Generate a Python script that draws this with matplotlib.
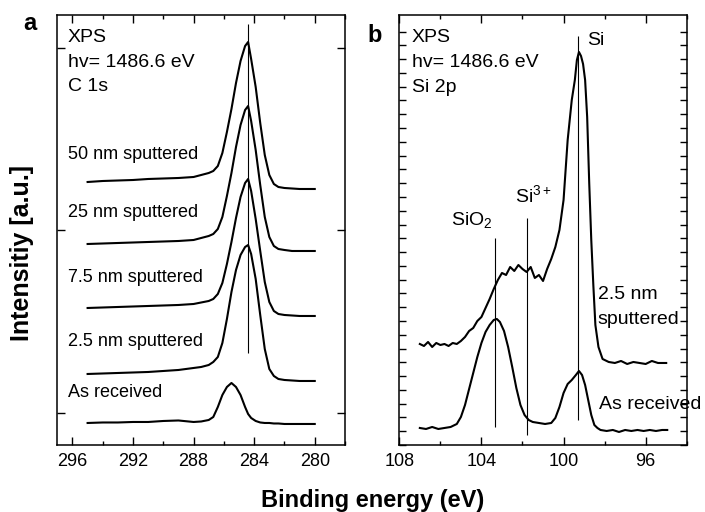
import numpy as np
import matplotlib
matplotlib.use("Agg")
import matplotlib.pyplot as plt
from matplotlib.ticker import MultipleLocator, FixedLocator

plt.rcParams["font.family"] = ["Liberation Sans", "DejaVu Sans"]
plt.rcParams["mathtext.default"] = "regular"

# ---- panel a: C 1s spectra (binding energy in eV, intensity in arbitrary units) ----
c1s_energy = [295.0, 294.0, 293.0, 292.0, 291.0, 290.0, 289.0, 288.0, 287.5, 287.0,
              286.7, 286.4, 286.1, 285.8, 285.5, 285.2, 284.9, 284.6, 284.4, 284.2,
              283.9, 283.6, 283.3, 283.0, 282.7, 282.4, 282.0, 281.5, 281.0, 280.5, 280.0]
c1s_50nm = [263, 264, 264.5, 265, 266, 266.5, 267, 268, 270, 272,
            274, 279, 292, 313, 336, 362, 384, 399, 403, 386,
            358, 322, 290, 270, 261, 258, 257, 256.5, 256, 256, 256]
c1s_25nm = [201, 201.5, 202, 202.5, 203, 203.5, 204, 205, 207, 209,
            211, 216, 228, 249, 272, 298, 320, 335, 339, 324,
            295, 260, 228, 208, 199, 196, 195, 194, 194, 194, 194]
c1s_7p5nm = [137, 137.5, 138, 138.5, 139, 139.5, 140, 141, 142.5, 144,
             146, 151, 162, 181, 203, 227, 248, 262, 266, 254,
             226, 194, 163, 143, 134, 131, 130, 129.5, 129, 129, 129]
c1s_2p5nm = [71, 71.5, 72, 72.5, 73, 74, 75, 77, 78, 80,
             83, 88, 102, 126, 153, 175, 190, 198, 200, 191,
             166, 130, 96, 76, 69, 66, 65, 64.5, 64, 64, 64]
c1s_received = [22, 22.5, 22.5, 23, 23, 24, 24.5, 23, 23.5, 25,
                28, 38, 50, 58, 62, 58, 50, 38, 31, 27,
                24, 22.5, 22, 22, 21.5, 21.5, 21, 21, 21, 21, 21]
c1s_labels = ["50 nm sputtered", "25 nm sputtered", "7.5 nm sputtered",
              "2.5 nm sputtered", "As received"]
c1s_label_heights = [290, 232, 167, 103, 52]
c1s_peak = 284.44

# ---- panel b: Si 2p spectra ----
si_sput_energy = [107.0, 106.8, 106.6, 106.4, 106.2, 106.0, 105.8, 105.6, 105.4, 105.2,
                  105.0, 104.8, 104.6, 104.4, 104.2, 104.0, 103.8, 103.6, 103.4, 103.2,
                  103.0, 102.8, 102.6, 102.4, 102.2, 102.0, 101.8, 101.6, 101.4, 101.2,
                  101.0, 100.8, 100.6, 100.4, 100.2, 100.0, 99.8, 99.6, 99.45, 99.35,
                  99.25, 99.15, 99.05, 98.95, 98.85, 98.75, 98.65, 98.55, 98.45, 98.3,
                  98.1, 97.8, 97.5, 97.2, 96.9, 96.6, 96.3, 96.0, 95.7, 95.4, 95.0]
si_sput = [101, 99, 103, 98, 102, 100, 101, 99, 102, 101,
           104, 108, 114, 117, 124, 128, 137, 146, 156, 165,
           172, 170, 178, 174, 180, 176, 173, 178, 167, 170,
           164, 176, 186, 198, 215, 245, 305, 345, 365, 385,
           393, 389, 381, 365, 328, 262, 205, 160, 120, 98,
           86, 83, 82, 84, 81, 83, 82, 81, 84, 82, 82]
si_recv_energy = [107.0, 106.7, 106.4, 106.1, 105.8, 105.5, 105.2, 105.0, 104.8, 104.6,
                  104.4, 104.2, 104.0, 103.8, 103.6, 103.4, 103.25, 103.1, 102.9, 102.7,
                  102.5, 102.3, 102.1, 101.9, 101.7, 101.5, 101.2, 100.9, 100.6, 100.4,
                  100.2, 100.0, 99.8, 99.6, 99.4, 99.25, 99.1, 98.95, 98.8, 98.65,
                  98.5, 98.35, 98.2, 97.9, 97.6, 97.3, 97.0, 96.7, 96.4, 96.1,
                  95.8, 95.5, 95.2, 94.95]
si_recv = [17, 16, 18, 16, 17, 18, 21, 28, 40, 56,
           72, 88, 102, 113, 120, 125, 126, 123, 114, 98,
           78, 57, 40, 30, 25, 23, 22, 21, 22, 27,
           38, 52, 61, 65, 70, 74, 70, 60, 45, 30,
           20, 17, 15, 14, 15, 13, 15, 14, 15, 14,
           15, 14, 15, 15]
si_lines = [103.35, 101.8, 99.3]
si_line_bottoms = [18, 10, 25]
si_line_tops = [207, 227, 409]

fig = plt.figure(figsize=(7.05, 5.12), dpi=100)
ax_a = fig.add_axes([0.0813, 0.1309, 0.4081, 0.8398])
ax_b = fig.add_axes([0.5664, 0.1309, 0.4077, 0.8398])

lw = 1.5
for y in [c1s_50nm, c1s_25nm, c1s_7p5nm, c1s_2p5nm, c1s_received]:
    ax_a.plot(c1s_energy, y, color="black", lw=lw)
ax_a.vlines(c1s_peak, 92, 421, color="black", lw=0.8)

ax_b.plot(si_sput_energy, si_sput, color="black", lw=lw)
ax_b.plot(si_recv_energy, si_recv, color="black", lw=lw)
ax_b.vlines(si_lines, si_line_bottoms, si_line_tops, color="black", lw=0.8)

fs = 13
hfs = 14
for txt, h in zip(["XPS", "hv= 1486.6 eV", "C 1s"], [408, 382, 358]):
    ax_a.text(296.31, h, txt, fontsize=hfs, va="center", ha="left")
for txt, h in zip(c1s_labels, c1s_label_heights):
    ax_a.text(296.31, h, txt, fontsize=fs, va="center", ha="left")

for txt, h in zip(["XPS", "hv= 1486.6 eV", "Si 2p"], [408, 382, 357]):
    ax_b.text(107.38, h, txt, fontsize=hfs, va="center", ha="left")
ax_b.text(98.86, 405, "Si", fontsize=hfs, va="center", ha="left")
ax_b.text(102.37, 250, "Si$^{3+}$", fontsize=hfs, va="center", ha="left")
ax_b.text(105.48, 225, "SiO$_2$", fontsize=hfs, va="center", ha="left")
ax_b.text(98.33, 150, "2.5 nm", fontsize=hfs, va="center", ha="left")
ax_b.text(98.33, 125, "sputtered", fontsize=hfs, va="center", ha="left")
ax_b.text(98.28, 40, "As received", fontsize=hfs, va="center", ha="left")

# axes setup
ax_a.set_xlim(297, 278)
ax_a.set_ylim(0, 430)
ax_a.xaxis.set_major_locator(MultipleLocator(4))
ax_a.xaxis.set_minor_locator(MultipleLocator(2))
ax_a.yaxis.set_major_locator(FixedLocator([32, 215, 397]))

ax_b.set_xlim(108, 94)
ax_b.set_ylim(0, 430)
ax_b.xaxis.set_major_locator(MultipleLocator(4))
ax_b.xaxis.set_minor_locator(MultipleLocator(2))
ax_b.yaxis.set_major_locator(FixedLocator(np.arange(0, 414, 13.78)))

for ax in (ax_a, ax_b):
    ax.tick_params(which="both", direction="in", top=True, right=True,
                   labelsize=13, width=1.0, pad=6)
    ax.tick_params(which="major", length=6)
    ax.tick_params(which="minor", length=3)
    ax.set_yticklabels([])
    for sp in ax.spines.values():
        sp.set_linewidth(1.1)
ax_b.tick_params(axis="y", length=5)

fig.text(0.031, 0.505, "Intensitiy [a.u.]", rotation=90, fontsize=18,
         fontweight="bold", ha="center", va="center")
fig.text(0.528, 0.023, "Binding energy (eV)", fontsize=17,
         fontweight="bold", ha="center", va="center")
fig.text(0.042, 0.941, "a", fontsize=17, fontweight="bold", ha="center", va="baseline")
fig.text(0.532, 0.918, "b", fontsize=17, fontweight="bold", ha="center", va="baseline")

fig.savefig("out.png", dpi=100)
